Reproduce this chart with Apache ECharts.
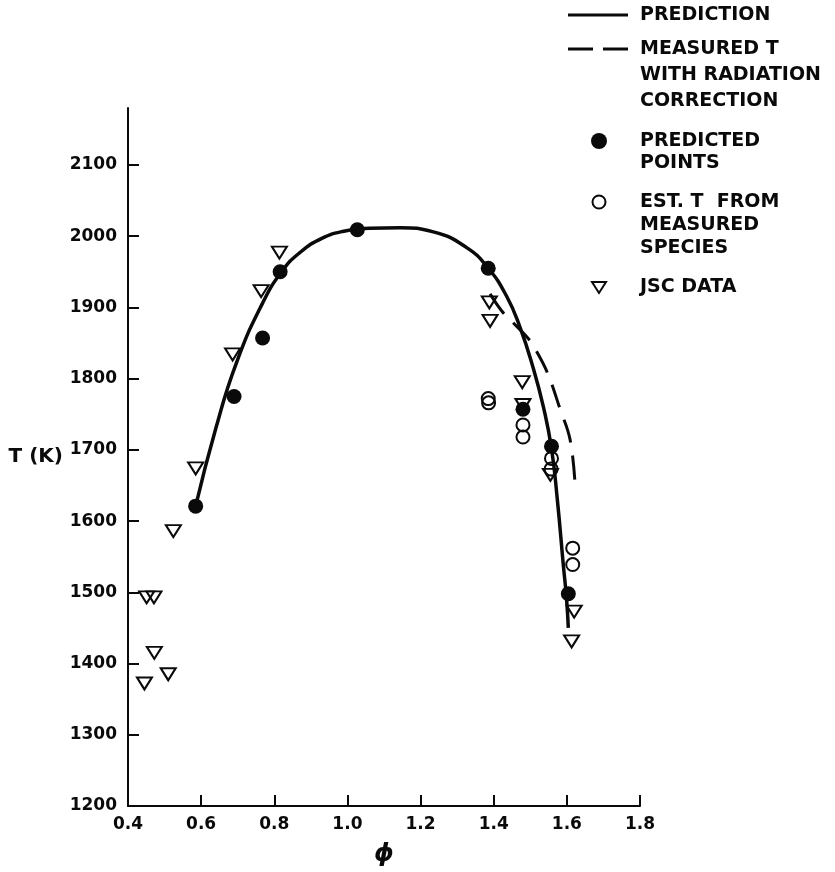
<!DOCTYPE html>
<html>
<head>
<meta charset="utf-8">
<script src="https://cdn.jsdelivr.net/npm/echarts@6/dist/echarts.min.js"></script>
<style>
html,body{margin:0;padding:0;background:#fff;}
#chart{width:835px;height:872px;}
</style>
</head>
<body>
<div id="chart"></div>
<script>
// ---- data ----
const xTicks = [0.4, 0.6, 0.8, 1.0, 1.2, 1.4, 1.6, 1.8];
const yTicks = [1200, 1300, 1400, 1500, 1600, 1700, 1800, 1900, 2000, 2100];

const predictionLine = [
  [0.585, 1621], [0.640, 1730], [0.697, 1823], [0.767, 1905], [0.820, 1950],
  [0.870, 1977], [0.930, 1997], [0.990, 2007], [1.060, 2011], [1.144, 2012],
  [1.235, 2006], [1.326, 1984], [1.385, 1955], [1.435, 1916], [1.472, 1872],
  [1.508, 1815], [1.536, 1760], [1.558, 1702], [1.574, 1630], [1.590, 1540],
  [1.599, 1492], [1.604, 1450]
];
const measuredRadLine = [
  [1.390, 1919], [1.422, 1895], [1.450, 1880], [1.495, 1856], [1.513, 1842],
  [1.547, 1808], [1.581, 1758], [1.609, 1714], [1.623, 1648]
];
const predictedPoints = [
  [0.585, 1621], [0.690, 1775], [0.768, 1857], [0.816, 1950], [1.027, 2009],
  [1.385, 1955], [1.480, 1757], [1.558, 1705], [1.604, 1498]
];
const estPoints = [
  [1.385, 1772], [1.386, 1766], [1.480, 1735], [1.480, 1718],
  [1.558, 1688], [1.557, 1673], [1.616, 1562], [1.616, 1539]
];
const jscPoints = [
  [0.445, 1372], [0.451, 1493], [0.471, 1493], [0.472, 1415], [0.510, 1385],
  [0.524, 1586], [0.585, 1674], [0.686, 1834], [0.764, 1923], [0.814, 1977],
  [1.388, 1907], [1.390, 1881], [1.478, 1795], [1.480, 1763], [1.555, 1665],
  [1.620, 1473], [1.613, 1431]
];
const legendLabels = [
  ['PREDICTION'],
  ['MEASURED T', 'WITH RADIATION', 'CORRECTION'],
  ['PREDICTED', 'POINTS'],
  ['EST. T  FROM', 'MEASURED', 'SPECIES'],
  ['JSC DATA']
];

// ---- chart ----
const FONT = 'DejaVu Sans';
const INK = '#0a0a0a';
const chart = echarts.init(document.getElementById('chart'), null, {renderer: 'canvas'});

const labelFont = {color: INK, fontFamily: FONT, fontWeight: 'bold', fontSize: 17};

// legend drawn as graphic (icons aligned with first text line)
const legendLineY = [[15], [49, 75, 101], [141, 163], [202, 225, 248], [287]];
const graphics = [];
legendLabels.forEach((lines, i) => {
  lines.forEach((t, j) => {
    graphics.push({
      type: 'text', x: 640, y: legendLineY[i][j],
      style: {text: t, x: 0, y: 0, fill: INK, font: 'bold 19px "DejaVu Sans"',
              align: 'left', verticalAlign: 'middle'}
    });
  });
});
graphics.push({type: 'line', shape: {x1: 568, y1: 15, x2: 628, y2: 15}, style: {stroke: INK, lineWidth: 3}});
graphics.push({type: 'line', shape: {x1: 568, y1: 49, x2: 593, y2: 49}, style: {stroke: INK, lineWidth: 3}});
graphics.push({type: 'line', shape: {x1: 603, y1: 49, x2: 628, y2: 49}, style: {stroke: INK, lineWidth: 3}});
graphics.push({type: 'circle', shape: {cx: 599, cy: 141, r: 8}, style: {fill: INK}});
graphics.push({type: 'circle', shape: {cx: 599, cy: 202, r: 6.5}, style: {fill: 'none', stroke: INK, lineWidth: 2}});
graphics.push({type: 'polygon', shape: {points: [[592, 282], [606, 282], [599, 293]]}, style: {fill: 'none', stroke: INK, lineWidth: 2}});

const option = {
  animation: false,
  backgroundColor: '#fff',
  grid: {left: 128, right: 195, top: 108, bottom: 63, containLabel: false},
  xAxis: {
    type: 'value', min: 0.4, max: 1.8, interval: 0.2,
    name: 'ϕ', nameLocation: 'middle', nameGap: 36,
    nameTextStyle: {color: INK, fontFamily: FONT, fontStyle: 'italic', fontWeight: 'bold', fontSize: 25},
    axisLine: {show: true, lineStyle: {color: INK, width: 2}},
    axisTick: {show: true, inside: true, length: 11, lineStyle: {color: INK, width: 2}},
    axisLabel: Object.assign({margin: 10, formatter: v => v.toFixed(1), customValues: xTicks}, labelFont),
    splitLine: {show: false}
  },
  yAxis: {
    type: 'value', min: 1200, max: 2180, interval: 100,
    name: 'T (K)', nameLocation: 'middle', nameRotate: 0, nameGap: 65,
    nameTextStyle: {color: INK, fontFamily: FONT, fontWeight: 'bold', fontSize: 20, padding: [42, 0, 0, 0]},
    axisLine: {show: true, lineStyle: {color: INK, width: 2}},
    axisTick: {show: true, inside: true, length: 11, lineStyle: {color: INK, width: 2}, customValues: yTicks},
    axisLabel: Object.assign({margin: 11, customValues: yTicks, formatter: v => String(v)}, labelFont),
    splitLine: {show: false}
  },
  graphic: graphics,
  series: [
    {
      name: 'PREDICTION', type: 'line', data: predictionLine, smooth: 0.5,
      showSymbol: false, symbol: 'none',
      lineStyle: {color: INK, width: 3.5}, z: 3
    },
    {
      name: 'MEASURED T WITH RADIATION CORRECTION', type: 'line', data: measuredRadLine, smooth: 0.4,
      showSymbol: false, symbol: 'none',
      lineStyle: {color: INK, width: 3, type: [24, 13]}, z: 3
    },
    {
      name: 'PREDICTED POINTS', type: 'scatter', data: predictedPoints,
      symbol: 'circle', symbolSize: 15,
      itemStyle: {color: INK, opacity: 1}, z: 4
    },
    {
      name: 'EST. T FROM MEASURED SPECIES', type: 'scatter', data: estPoints,
      symbol: 'circle', symbolSize: 13,
      itemStyle: {color: 'rgba(0,0,0,0)', borderColor: INK, borderWidth: 2, opacity: 1}, z: 4
    },
    {
      name: 'JSC DATA', type: 'scatter', data: jscPoints,
      symbol: 'triangle', symbolRotate: 180, symbolSize: [15, 12],
      itemStyle: {color: 'rgba(0,0,0,0)', borderColor: INK, borderWidth: 2, opacity: 1}, z: 4
    }
  ]
};
chart.setOption(option);
</script>
</body>
</html>
